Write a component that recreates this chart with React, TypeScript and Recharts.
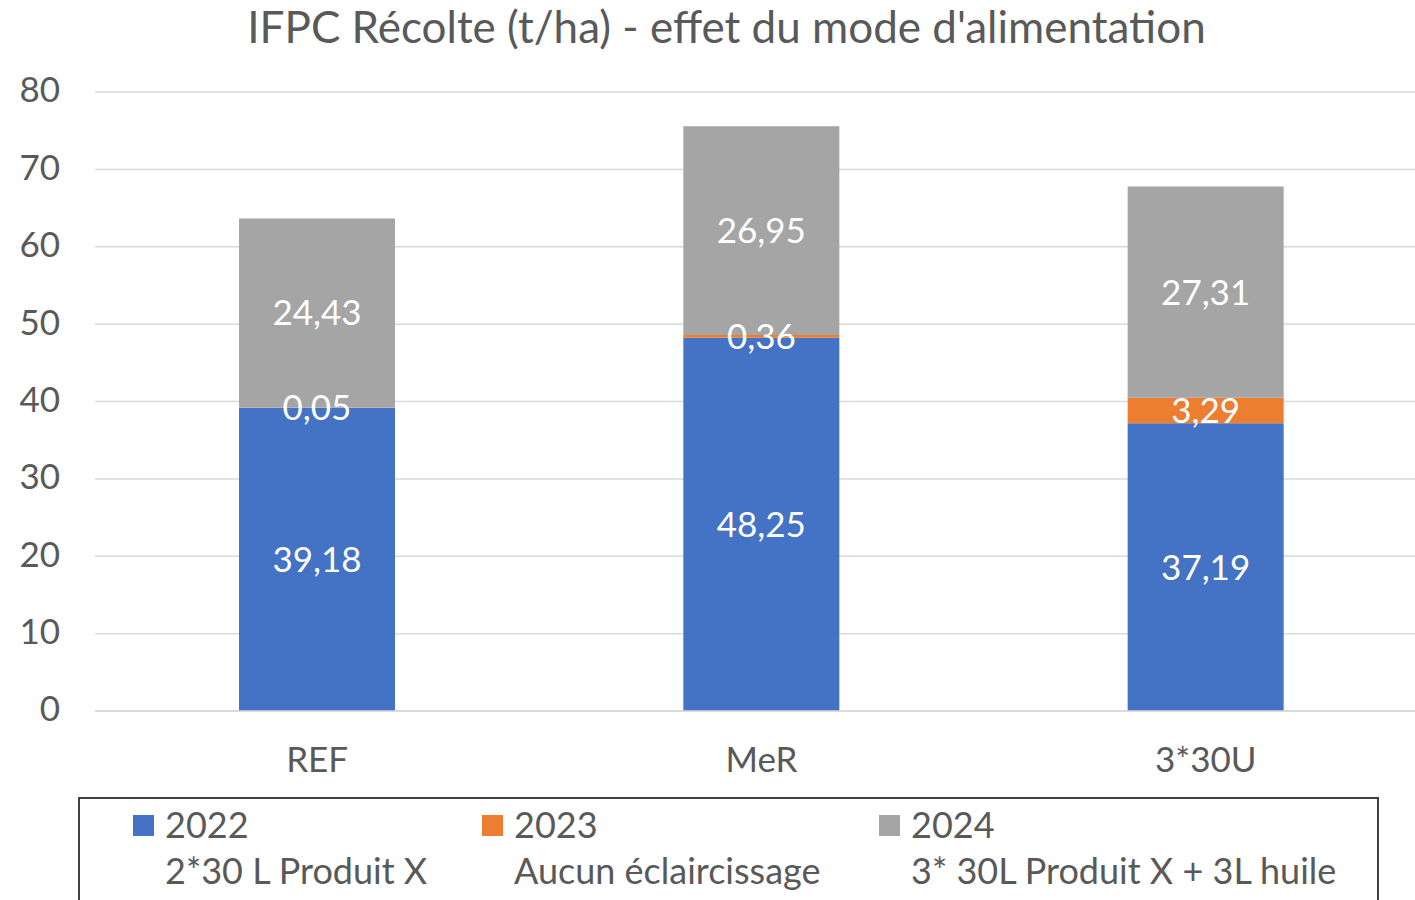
import { BarChart, Bar, XAxis, YAxis, CartesianGrid, LabelList } from 'recharts'

const categories = ['REF', 'MeR', '3*30U']
const values2022 = [39.18, 48.25, 37.19]
const values2023 = [0.05, 0.36, 3.29]
const values2024 = [24.43, 26.95, 27.31]
const yTicks = [0, 10, 20, 30, 40, 50, 60, 70, 80]

const SERIES = [
  { key: 'y2022', name: '2022', sub: '2*30 L Produit X', color: '#4472C4', left: 133 },
  { key: 'y2023', name: '2023', sub: 'Aucun éclaircissage', color: '#ED7D31', left: 482 },
  { key: 'y2024', name: '2024', sub: '3* 30L Produit X + 3L huile', color: '#A5A5A5', left: 879 },
]

const data = categories.map((c, i) => ({
  name: c,
  y2022: values2022[i],
  y2023: values2023[i],
  y2024: values2024[i],
}))

const FONT = 'Lato, "Open Sans", sans-serif'
const TEXT = '#595959'

const fmt = (v: any) => Number(v).toFixed(2).replace('.', ',')

export default function App() {
  return (
    <div
      style={{
        position: 'absolute',
        left: 0,
        top: 0,
        width: 1415,
        height: 900,
        overflow: 'hidden',
        background: '#fff',
        fontFamily: FONT,
      }}
    >
      <div
        style={{
          position: 'absolute',
          left: 0,
          width: 1453,
          top: 0,
          textAlign: 'center',
          fontSize: 44,
          color: TEXT,
          lineHeight: '52px',
          whiteSpace: 'nowrap',
        }}
      >
        IFPC Récolte (t/ha) - effet du mode d'alimentation
      </div>

      <div style={{ position: 'absolute', left: 0, top: 0 }}>
        <BarChart
          width={1430}
          height={900}
          data={data}
          margin={{ top: 92, right: 2, bottom: 129, left: 0 }}
          barSize={156}
        >
          <CartesianGrid vertical={false} stroke="#D9D9D9" strokeWidth={1.5} />
          <XAxis
            dataKey="name"
            height={60}
            axisLine={{ stroke: '#D9D9D9', strokeWidth: 1.5 }}
            tickLine={false}
            tickMargin={30}
            tick={{ fill: TEXT, fontSize: 35, fontFamily: FONT }}
          />
          <YAxis
            width={95}
            domain={[0, 80]}
            ticks={yTicks}
            axisLine={false}
            tickLine={false}
            tickMargin={29}
            tick={{ fill: TEXT, fontSize: 35, fontFamily: FONT, dy: -2 }}
          />
          {SERIES.map((s) => (
            <Bar key={s.key} dataKey={s.key} name={s.name} stackId="a" fill={s.color} isAnimationActive={false}>
              <LabelList
                dataKey={s.key}
                position="center"
                formatter={fmt}
                fill="#FFFFFF"
                fontSize={35}
                fontFamily={FONT}
              />
            </Bar>
          ))}
        </BarChart>
      </div>

      <div
        style={{
          position: 'absolute',
          left: 78,
          top: 797,
          width: 1297,
          height: 140,
          border: '2px solid #404040',
        }}
      />
      {SERIES.map((s) => (
        <div key={s.key} style={{ position: 'absolute', left: s.left, top: 801, color: TEXT, fontSize: 36 }}>
          <div
            style={{
              position: 'absolute',
              left: 0,
              top: 14,
              width: 21,
              height: 21,
              background: s.color,
            }}
          />
          <div style={{ position: 'absolute', left: 32, top: 0, lineHeight: '46px', whiteSpace: 'nowrap' }}>
            {s.name}
            <br />
            {s.sub}
          </div>
        </div>
      ))}
    </div>
  )
}
